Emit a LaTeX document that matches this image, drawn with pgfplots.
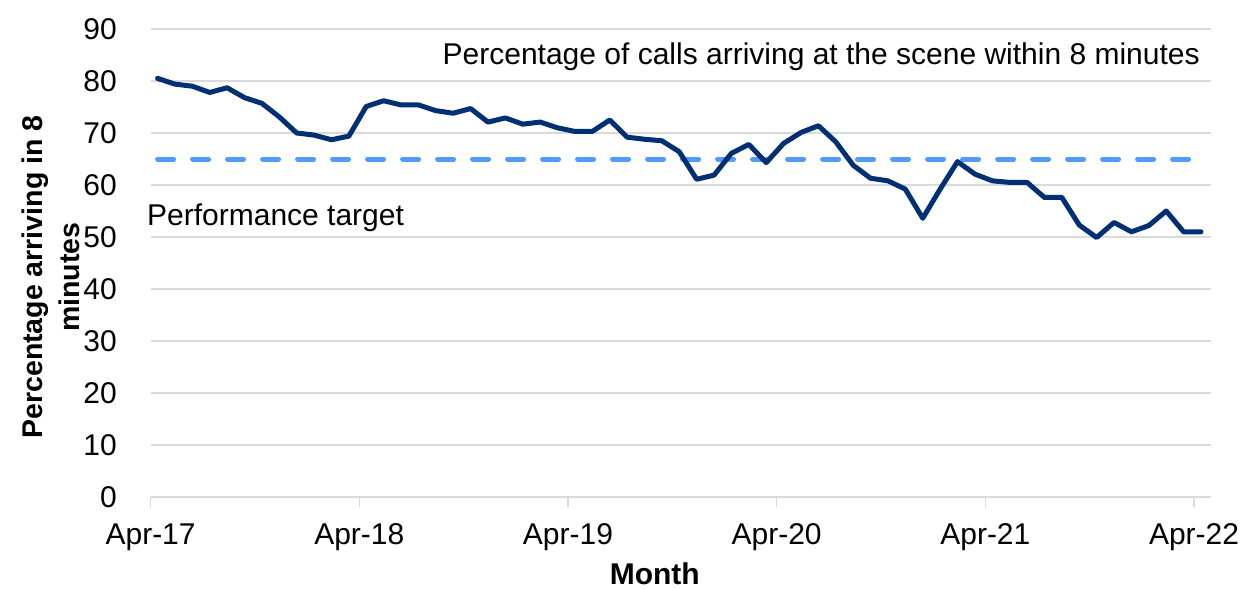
\documentclass[border=0pt]{standalone}
\usepackage{pgfplots}
\pgfplotsset{compat=1.18}
\usepackage{fontspec}
\setmainfont{Liberation Sans}
\definecolor{navy}{RGB}{0,48,115}
\definecolor{tgt}{RGB}{80,155,255}
\definecolor{gridgray}{RGB}{217,217,217}
\begin{document}
\fontsize{30}{36}\selectfont
\begin{tikzpicture}
\begin{axis}[
  at={(0,0)}, anchor=south west,
  scale only axis,
  width=1060.1pt, height=468pt,
  xmin=-0.4, xmax=60.56,
  ymin=0, ymax=90,
  xtick={-0.4,11.6,23.6,35.6,47.6,59.6},
  xticklabels={Apr-17,Apr-18,Apr-19,Apr-20,Apr-21,Apr-22},
  ytick={0,10,...,90},
  /pgf/number format/assume math mode=true,
  axis x line*=bottom,
  axis y line*=left,
  y axis line style={draw=none},
  x axis line style={draw=gridgray, line width=1.5pt},
  ytick style={draw=none},
  xtick style={draw=gridgray, line width=1.5pt},
  tick align=outside,
  major tick length=10pt,
  ymajorgrids,
  grid style={gridgray, line width=1.5pt},
  tick label style={font=\fontsize{30}{36}\selectfont, text=black},
  yticklabel style={anchor=east, xshift=-13.6pt, inner sep=10pt},
  xticklabel style={anchor=base, yshift=-37pt},
  xlabel={Month},
  xlabel style={font=\fontsize{30}{36}\selectfont\bfseries, at={(axis description cs:0.4756,0)}, anchor=base, yshift=-87pt},
  ylabel={Percentage arriving in 8\\minutes},
  ylabel style={font=\fontsize{28.5}{37}\selectfont\bfseries, at={(axis description cs:-0.0941,0.47)}, anchor=center, align=center, rotate=0},
  clip=false,
]
\addplot[tgt, line width=5pt, line cap=round, dash pattern=on 16pt off 19pt] coordinates {
(0,65)(1,65)(2,65)(3,65)(4,65)(5,65)(6,65)(7,65)(8,65)(9,65)
(10,65)(11,65)(12,65)(13,65)(14,65)(15,65)(16,65)(17,65)(18,65)(19,65)
(20,65)(21,65)(22,65)(23,65)(24,65)(25,65)(26,65)(27,65)(28,65)(29,65)
(30,65)(31,65)(32,65)(33,65)(34,65)(35,65)(36,65)(37,65)(38,65)(39,65)
(40,65)(41,65)(42,65)(43,65)(44,65)(45,65)(46,65)(47,65)(48,65)(49,65)
(50,65)(51,65)(52,65)(53,65)(54,65)(55,65)(56,65)(57,65)(58,65)(59,65)
(60,65)};
\addplot[navy, line width=5pt, line join=round, line cap=round] coordinates {
(0,80.5)(1,79.4)(2,79.0)(3,77.8)(4,78.7)(5,76.8)(6,75.7)(7,73.1)(8,70.0)(9,69.6)
(10,68.7)(11,69.4)(12,75.1)(13,76.2)(14,75.4)(15,75.4)(16,74.3)(17,73.8)(18,74.7)(19,72.1)
(20,72.9)(21,71.7)(22,72.1)(23,71.0)(24,70.3)(25,70.3)(26,72.5)(27,69.2)(28,68.8)(29,68.5)
(30,66.4)(31,61.1)(32,61.9)(33,66.1)(34,67.8)(35,64.3)(36,68.0)(37,70.1)(38,71.4)(39,68.3)
(40,63.8)(41,61.3)(42,60.8)(43,59.2)(44,53.6)(45,59.2)(46,64.5)(47,62.1)(48,60.8)(49,60.5)
(50,60.5)(51,57.6)(52,57.6)(53,52.3)(54,49.9)(55,52.8)(56,51.0)(57,52.2)(58,55.0)(59,51.0)
(60,51.0)};
\node[anchor=base east, inner sep=0pt] at (axis cs:59.94,83.1) {Percentage of calls arriving at the scene within 8 minutes};
\node[anchor=base west, inner sep=0pt] at (axis cs:-0.61,52.3) {Performance target};
\end{axis}
\pgfresetboundingbox
\path[use as bounding box] (-150.6pt,-92pt) rectangle (1099.4pt,497pt);
\end{tikzpicture}
\end{document}
